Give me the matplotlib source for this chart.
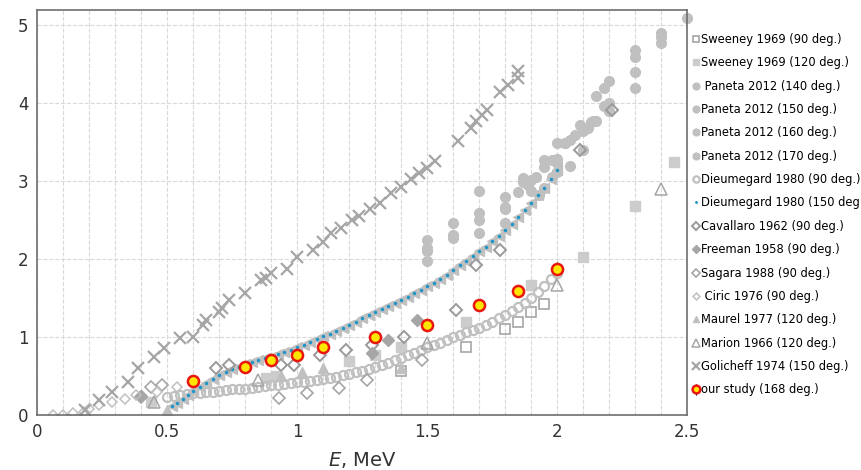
import numpy as np
import matplotlib.pyplot as plt
from matplotlib.ticker import MultipleLocator

# ---- data (E in MeV, ratio) ----
sween90_e = [1.4, 1.65, 1.8, 1.85, 1.9, 1.95]
sween90_y = [0.57, 0.87, 1.11, 1.2, 1.32, 1.43]

sween120_e = [0.44, 0.88, 0.92, 1.2, 1.3, 1.4, 1.65, 1.9, 2.1, 2.3, 2.45]
sween120_y = [0.17, 0.47, 0.5, 0.69, 0.77, 0.87, 1.2, 1.67, 2.03, 2.68, 3.25]

pan140_e = [1.5, 1.6, 1.7, 1.8, 1.85, 1.9, 1.95, 2.0, 2.05, 2.1, 2.15, 2.2, 2.3, 2.4, 2.5]
pan140_y = [1.98, 2.27, 2.33, 2.47, 2.86, 2.88, 2.91, 3.12, 3.2, 3.65, 3.78, 4.0, 4.2, 4.78, 5.1]
pan150_e = [1.5, 1.6, 1.7, 1.8, 1.87, 1.9, 1.95, 2.0, 2.03, 2.07, 2.12, 2.18, 2.3, 2.4]
pan150_y = [2.1, 2.31, 2.5, 2.65, 2.99, 3.01, 3.27, 3.24, 3.49, 3.59, 3.68, 3.97, 4.4, 4.85]
pan160_e = [1.5, 1.6, 1.7, 1.8, 1.87, 1.92, 1.98, 2.0, 2.05, 2.09, 2.13, 2.15, 2.18, 2.3, 2.4]
pan160_y = [2.15, 2.47, 2.59, 2.67, 3.04, 3.05, 3.27, 3.49, 3.53, 3.72, 3.76, 4.09, 4.2, 4.6, 4.9]
pan170_e = [1.5, 1.7, 1.8, 1.89, 1.93, 1.95, 1.98, 2.0, 2.03, 2.1, 2.14, 2.2, 2.2, 2.3]
pan170_y = [2.25, 2.88, 2.8, 2.95, 2.82, 3.18, 3.05, 3.29, 3.49, 3.4, 3.78, 4.29, 3.9, 4.68]

diem90_e = [0.5, 0.525, 0.55, 0.575, 0.6, 0.625, 0.65, 0.675, 0.7, 0.725, 0.75, 0.775, 0.8,
            0.825, 0.85, 0.875, 0.9, 0.925, 0.95, 0.975, 1.0, 1.025, 1.05, 1.075, 1.1, 1.125,
            1.15, 1.175, 1.2, 1.225, 1.25, 1.275, 1.3, 1.325, 1.35, 1.375, 1.4, 1.425, 1.45,
            1.475, 1.5, 1.525, 1.55, 1.575, 1.6, 1.625, 1.65, 1.675, 1.7, 1.725, 1.75, 1.775,
            1.8, 1.825, 1.85, 1.875, 1.9, 1.925, 1.95, 1.975, 2.0]
diem90_y = [0.23, 0.25, 0.26, 0.27, 0.28, 0.285, 0.29, 0.3, 0.31, 0.32, 0.33, 0.335, 0.34,
            0.35, 0.36, 0.37, 0.38, 0.39, 0.4, 0.41, 0.42, 0.43, 0.44, 0.45, 0.46, 0.475,
            0.49, 0.51, 0.53, 0.55, 0.57, 0.595, 0.62, 0.645, 0.67, 0.7, 0.73, 0.765, 0.8,
            0.835, 0.87, 0.9, 0.93, 0.965, 1.0, 1.03, 1.06, 1.09, 1.12, 1.16, 1.2, 1.245,
            1.29, 1.335, 1.38, 1.44, 1.5, 1.58, 1.66, 1.74, 1.82]

diem150_e = [0.52, 0.54, 0.56, 0.58, 0.6, 0.625, 0.65, 0.675, 0.7, 0.725, 0.75, 0.775, 0.8,
             0.825, 0.85, 0.875, 0.9, 0.925, 0.95, 0.975, 1.0, 1.025, 1.05, 1.075, 1.1, 1.125,
             1.15, 1.175, 1.2, 1.225, 1.25, 1.275, 1.3, 1.325, 1.35, 1.375, 1.4, 1.425, 1.45,
             1.475, 1.5, 1.525, 1.55, 1.575, 1.6, 1.625, 1.65, 1.675, 1.7, 1.725, 1.75, 1.775,
             1.8, 1.825, 1.85, 1.875, 1.9, 1.925, 1.95, 1.975, 2.0]
diem150_y = [0.12, 0.16, 0.21, 0.26, 0.31, 0.36, 0.41, 0.46, 0.51, 0.55, 0.59, 0.62, 0.65,
             0.68, 0.7, 0.73, 0.75, 0.78, 0.81, 0.84, 0.87, 0.9, 0.94, 0.97, 1.01, 1.04,
             1.08, 1.12, 1.16, 1.2, 1.24, 1.28, 1.32, 1.36, 1.4, 1.44, 1.48, 1.52, 1.56,
             1.6, 1.65, 1.7, 1.75, 1.8, 1.86, 1.92, 1.98, 2.04, 2.1, 2.16, 2.23, 2.3,
             2.37, 2.45, 2.54, 2.63, 2.72, 2.82, 2.92, 3.03, 3.15]

cav_e = [0.69, 0.74, 0.94, 0.99, 1.09, 1.19, 1.29, 1.41, 1.61, 1.69, 1.78, 2.09, 2.21]
cav_y = [0.6, 0.64, 0.64, 0.64, 0.77, 0.83, 0.9, 1.0, 1.35, 1.92, 2.12, 3.4, 3.91]

free_e = [0.4, 1.29, 1.35, 1.46]
free_y = [0.25, 0.8, 0.96, 1.22]

sag_e = [0.4, 0.44, 0.48, 0.93, 1.04, 1.16, 1.27, 1.48]
sag_y = [0.23, 0.36, 0.38, 0.22, 0.28, 0.35, 0.45, 0.7]

ciric_e = [0.06, 0.1, 0.14, 0.18, 0.2, 0.24, 0.29, 0.34, 0.38, 0.46, 0.54]
ciric_y = [0.0, 0.0, 0.02, 0.04, 0.08, 0.13, 0.17, 0.21, 0.26, 0.3, 0.36]

maurel_e = [0.5, 0.94, 1.02, 1.1, 1.4]
maurel_y = [0.07, 0.5, 0.55, 0.6, 0.6]

marion_e = [0.45, 0.85, 1.5, 2.0, 2.4]
marion_y = [0.17, 0.45, 0.92, 1.67, 2.9]

gol_e = [0.185, 0.24, 0.29, 0.35, 0.39, 0.45, 0.49, 0.55, 0.6, 0.64, 0.65, 0.7, 0.71, 0.74,
         0.8, 0.86, 0.88, 0.9, 0.96, 1.0, 1.06, 1.1, 1.13, 1.17, 1.21, 1.24, 1.28, 1.32, 1.36,
         1.4, 1.44, 1.47, 1.5, 1.53, 1.62, 1.67, 1.69, 1.71, 1.73, 1.78, 1.81, 1.85, 1.85]
gol_y = [0.06, 0.19, 0.3, 0.42, 0.6, 0.75, 0.86, 0.99, 1.0, 1.15, 1.22, 1.32, 1.37, 1.47,
         1.56, 1.73, 1.76, 1.82, 1.88, 2.03, 2.12, 2.22, 2.33, 2.4, 2.5, 2.55, 2.65, 2.72, 2.85,
         2.93, 3.03, 3.1, 3.17, 3.26, 3.52, 3.68, 3.77, 3.85, 3.92, 4.14, 4.23, 4.33, 4.42]

our_e = [0.6, 0.8, 0.9, 1.0, 1.1, 1.3, 1.5, 1.7, 1.85, 2.0]
our_y = [0.44, 0.62, 0.7, 0.77, 0.87, 1.0, 1.15, 1.41, 1.59, 1.88]
our_err = [0.03, 0.03, 0.03, 0.03, 0.03, 0.04, 0.05, 0.06, 0.06, 0.08]

# ---- plot ----
fig = plt.figure(figsize=(8.61, 4.70), dpi=100)
ax = fig.add_axes([0.043, 0.117, 0.755, 0.862])

g1 = '#c0c0c0'
g2 = '#a6a6a6'
g3 = '#9a9a9a'

ax.plot(sween90_e, sween90_y, 's', ms=7, mfc='none', mec=g2, mew=1.2, label='Sweeney 1969 (90 deg.)')
ax.plot(sween120_e, sween120_y, 's', ms=7, color='#cccccc', label='Sweeney 1969 (120 deg.)')
ax.plot(pan140_e, pan140_y, 'o', ms=7, color=g1, label=' Paneta 2012 (140 deg.)', clip_on=False)
ax.plot(pan150_e, pan150_y, 'o', ms=7, color=g1, label='Paneta 2012 (150 deg.)')
ax.plot(pan160_e, pan160_y, 'o', ms=7, color=g1, label='Paneta 2012 (160 deg.)')
ax.plot(pan170_e, pan170_y, 'o', ms=7, color=g1, label='Paneta 2012 (170 deg.)')
ax.plot(diem90_e, diem90_y, 'o', ms=6.5, mfc='none', mec=g1, mew=1.6, label='Dieumegard 1980 (90 deg.)')
ax.plot(diem150_e, diem150_y, '<', ms=7.5, color=g1)
ax.plot(diem150_e, diem150_y, '.', ms=3, color='#1f96c8', label='Dieumegard 1980 (150 deg.)')
ax.plot(cav_e, cav_y, 'D', ms=6.5, mfc='none', mec=g3, mew=1.4, label='Cavallaro 1962 (90 deg.)')
ax.plot(free_e, free_y, 'D', ms=6.5, color=g2, label='Freeman 1958 (90 deg.)')
ax.plot(sag_e, sag_y, 'D', ms=6.5, mfc='none', mec=g2, mew=1.2, label='Sagara 1988 (90 deg.)')
ax.plot(ciric_e, ciric_y, 'D', ms=5, mfc='none', mec=g1, mew=1.1, label=' Ciric 1976 (90 deg.)')
ax.plot(maurel_e, maurel_y, '^', ms=7, color=g1, label='Maurel 1977 (120 deg.)')
ax.plot(marion_e, marion_y, '^', ms=8, mfc='none', mec=g2, mew=1.1, label='Marion 1966 (120 deg.)')
ax.plot(gol_e, gol_y, 'x', ms=8, mew=1.6, color=g2, label='Golicheff 1974 (150 deg.)')
ax.errorbar(our_e, our_y, yerr=our_err, fmt='o', ms=8, mfc='#ffe600', mec='#e8160c', mew=1.8,
            ecolor='black', elinewidth=0.8, capsize=0, label='our study (168 deg.)', zorder=5)

ax.set_xlim(0, 2.5)
ax.set_ylim(0, 5.2)
ax.xaxis.set_minor_locator(MultipleLocator(0.1))
ax.yaxis.set_major_locator(MultipleLocator(1))
ax.set_xticks([0, 0.5, 1, 1.5, 2, 2.5])
ax.set_xticklabels(['0', '0.5', '1', '1.5', '2', '2.5'])
ax.grid(which='both', axis='x', color='#d9d9d9', ls='--', lw=0.8)
ax.grid(which='major', axis='y', color='#d9d9d9', ls='--', lw=0.8)
ax.set_axisbelow(True)
ax.tick_params(which='both', length=0, labelsize=12, colors='#333333', pad=6)
for s in ax.spines.values():
    s.set_color('#6e6e6e')
    s.set_linewidth(1.2)

ax.set_xlabel('$E$, MeV', fontsize=14, color='#333333', labelpad=6)

ax.legend(loc='upper left', bbox_to_anchor=(0.799, 0.94), bbox_transform=fig.transFigure,
          frameon=False, fontsize=8.3, handlelength=0.6, handletextpad=0.15,
          labelspacing=0.9, borderaxespad=0, markerscale=0.7)

fig.savefig('out.png', dpi=100)
